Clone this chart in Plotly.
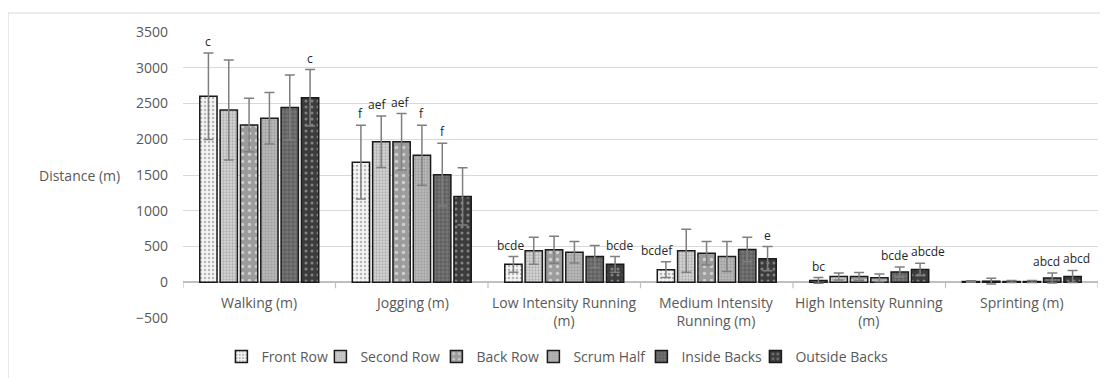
import plotly.graph_objects as go

categories = ["Walking (m)", "Jogging (m)", "Low Intensity Running<br>(m)",
              "Medium Intensity<br>Running (m)", "High Intensity Running<br>(m)", "Sprinting (m)"]
positions = ["Front Row", "Second Row", "Back Row", "Scrum Half", "Inside Backs", "Outside Backs"]

front_row = [2600, 1680, 250, 175, 25, 10]
second_row = [2410, 1965, 440, 440, 80, 15]
back_row = [2200, 1965, 455, 405, 80, 10]
scrum_half = [2295, 1775, 420, 360, 62, 10]
inside_backs = [2445, 1505, 360, 458, 145, 60]
outside_backs = [2580, 1200, 250, 330, 180, 80]

front_row_sd = [605, 515, 110, 110, 40, 10]
second_row_sd = [700, 360, 190, 300, 50, 40]
back_row_sd = [375, 395, 190, 165, 55, 15]
scrum_half_sd = [360, 420, 150, 210, 55, 15]
inside_backs_sd = [455, 440, 155, 170, 70, 70]
outside_backs_sd = [395, 400, 110, 170, 85, 85]

front_row_lbl = ["c", "f", "bcde", "bcdef", "bc", ""]
second_row_lbl = ["", "aef", "", "", "", ""]
back_row_lbl = ["", "aef", "", "", "", ""]
scrum_half_lbl = ["", "f", "", "", "", ""]
inside_backs_lbl = ["", "f", "", "", "bcde", "abcd"]
outside_backs_lbl = ["c", "", "bcde", "e", "abcde", "abcd"]

y_ticks = [-500, 0, 500, 1000, 1500, 2000, 2500, 3000, 3500]

means = [front_row, second_row, back_row, scrum_half, inside_backs, outside_backs]
sds = [front_row_sd, second_row_sd, back_row_sd, scrum_half_sd, inside_backs_sd, outside_backs_sd]
labels = [front_row_lbl, second_row_lbl, back_row_lbl, scrum_half_lbl, inside_backs_lbl, outside_backs_lbl]

# small horizontal nudges of letter labels (series index, category index) -> px
label_nudge = {(0, 2): -3, (5, 2): 4, (0, 3): -9, (1, 1): -4, (2, 1): -2,
               (4, 4): -5, (5, 4): 8, (4, 5): -6, (5, 5): 4}
# legend entry widths (px) to keep the legend compact
legend_widths = [54, 71, 52, 63, 69, 90]

styles = [
    dict(bg="#f4f4f4", fg="#7a7a7a", shape=".", size=4, sol=0.3),
    dict(bg="#d6d6d6", fg="#888888", shape=".", size=3, sol=0.45),
    dict(bg="#9c9c9c", fg="#ffffff", shape=".", size=7, sol=0.2),
    dict(bg="#bdbdbd", fg="#858585", shape=".", size=3, sol=0.5),
    dict(bg="#767676", fg="#303030", shape="+", size=4, sol=0.35),
    dict(bg="#3c3c3c", fg="#c8c8c8", shape=".", size=6, sol=0.2),
]

xidx = list(range(len(categories)))
fig = go.Figure()
for name, m, s, st, lw in zip(positions, means, sds, styles, legend_widths):
    fig.add_trace(go.Bar(
        name=name, x=xidx, y=m, legendwidth=lw,
        marker=dict(color=st["bg"], line=dict(color="#1a1a1a", width=1.5),
                    pattern=dict(shape=st["shape"], bgcolor=st["bg"], fgcolor=st["fg"],
                                 size=st["size"], solidity=st["sol"], fillmode="overlay")),
        error_y=dict(type="data", array=s, symmetric=True, color="#7f7f7f", thickness=1.5, width=5),
    ))

bargap = 0.2
n = len(positions)
annotations = []
for j, (m, s, lb) in enumerate(zip(means, sds, labels)):
    for i in xidx:
        if lb[i]:
            annotations.append(dict(
                x=i + (j - (n - 1) / 2) * (1 - bargap) / n, y=m[i] + s[i],
                xref="x", yref="y", text=lb[i], showarrow=False,
                yanchor="bottom", yshift=1, xshift=label_nudge.get((j, i), 0),
                font=dict(family="Open Sans", size=12, color="#262626")))

for i, c in enumerate(categories):
    annotations.append(dict(x=i, y=0, xref="x", yref="y", text=c, showarrow=False,
                            yanchor="top", yshift=-9,
                            font=dict(family="Open Sans", size=14, color="#595959")))

annotations.append(dict(x=-0.1126, y=0.497, xref="paper", yref="paper", text="Distance (m)",
                        showarrow=False, xanchor="center", yanchor="middle",
                        font=dict(family="Open Sans", size=14, color="#595959")))

shapes = []
for i in range(len(categories) + 1):
    shapes.append(dict(type="line", xref="x", yref="y", x0=i - 0.5, x1=i - 0.5,
                       ysizemode="pixel", yanchor=0, y0=0, y1=-6,
                       line=dict(color="#bfbfbf", width=1.2)))
# chart area border
shapes.append(dict(type="rect", xref="paper", yref="paper",
                   x0=(0 - 175) / 915, x1=1.05, y0=-0.3, y1=1 + 19 / 286,
                   line=dict(color="#d9d9d9", width=1.2), fillcolor="rgba(0,0,0,0)", layer="below"))

fig.update_layout(
    width=1100, height=370,
    margin=dict(l=175, r=10, t=24, b=60),
    paper_bgcolor="white", plot_bgcolor="white",
    barmode="group", bargap=bargap, bargroupgap=0.15,
    xaxis=dict(range=[-0.5, 5.5], showgrid=False, showticklabels=False, zeroline=False,
               showline=False, fixedrange=True),
    yaxis=dict(range=[-500, 3500], tickvals=y_ticks, showgrid=True, gridcolor="#d9d9d9",
               gridwidth=1.2, zeroline=True, zerolinecolor="#bfbfbf", zerolinewidth=1.5,
               showline=False, ticklabelstandoff=14,
               tickfont=dict(family="Open Sans", size=14, color="#595959")),
    legend=dict(orientation="h", x=0.194, xref="container", xanchor="left", y=0.014, yref="container",
                yanchor="bottom", font=dict(family="Open Sans", size=14, color="#595959"),
                itemwidth=30, tracegroupgap=0),
    annotations=annotations, shapes=shapes,
    showlegend=True,
)

fig.write_html("out.html")
